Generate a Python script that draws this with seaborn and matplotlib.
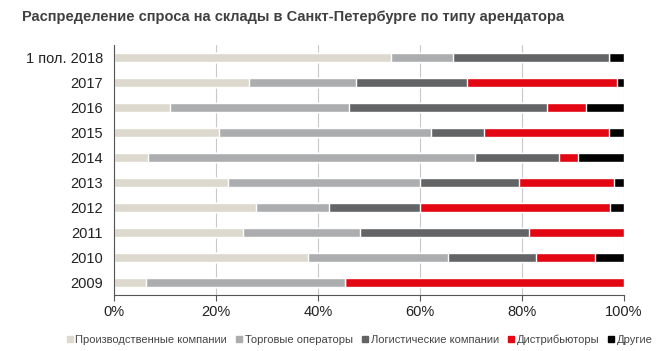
import matplotlib
matplotlib.use("Agg")
import matplotlib.pyplot as plt
from matplotlib.lines import Line2D
import numpy as np
import pandas as pd
import seaborn as sns

# values, % of annual take-up
years = ['1 пол. 2018', '2017', '2016', '2015', '2014', '2013', '2012', '2011', '2010', '2009']
production = [54.3, 26.5, 11.0, 20.6, 6.7, 22.4, 27.8, 25.2, 38.1, 6.2]
retail = [12.2, 20.9, 35.1, 41.5, 64.0, 37.6, 14.3, 23.0, 27.3, 39.1]
logistics = [30.5, 21.8, 38.7, 10.4, 16.6, 19.4, 17.9, 33.2, 17.3, 0.0]
distributors = [0.0, 29.5, 7.8, 24.5, 3.7, 18.6, 37.3, 18.6, 11.6, 54.7]
other = [3.0, 1.3, 7.4, 3.0, 9.0, 2.0, 2.7, 0.0, 5.7, 0.0]

series = ['Производственные компании', 'Торговые операторы', 'Логистические компании',
          'Дистрибьюторы', 'Другие']
colors = ['#ddd9cf', '#acadaf', '#636466', '#e30613', '#000000']

df = pd.DataFrame({'year': years, series[0]: production, series[1]: retail,
                   series[2]: logistics, series[3]: distributors, series[4]: other})
cum = df[series].cumsum(axis=1)

sns.set_style('white')
plt.rcParams['font.family'] = ['Liberation Sans', 'DejaVu Sans']

fig = plt.figure(figsize=(6.71, 3.51), dpi=100)
ax = fig.add_axes([0.170, 0.160, 0.760, 0.712])

# stacked bars: draw cumulative totals from the last series back to the first
for name, col in reversed(list(zip(series, colors))):
    sns.barplot(x=cum[name], y=df['year'], orient='h', color=col, width=0.38,
                saturation=1, ax=ax, order=years)

ax.set_xlim(0, 100)
ax.set_ylim(len(years) - 0.5, -0.5)
ax.set_xticks([0, 20, 40, 60, 80, 100])
ax.set_xticklabels(['0%', '20%', '40%', '60%', '80%', '100%'])
ax.set_xlabel('')
ax.set_ylabel('')
ax.grid(axis='x', color='#c8c8c8', lw=0.8)
ax.set_axisbelow(True)
for s in ['top', 'right']:
    ax.spines[s].set_visible(False)
for s in ['left', 'bottom']:
    ax.spines[s].set_color('#555555')
    ax.spines[s].set_linewidth(0.8)

ax.set_yticks(np.arange(-0.5, len(years), 1), minor=True)
ax.tick_params(axis='y', which='major', length=0, labelsize=10.5, pad=8, labelcolor='#222222')
ax.tick_params(axis='y', which='minor', length=4, width=0.8, color='#555555', direction='out')
ax.tick_params(axis='x', which='major', length=4, width=0.8, color='#555555', direction='out',
               labelsize=10.5, labelcolor='#222222', bottom=True)

fig.text(0.033, 0.952, 'Распределение спроса на склады в Санкт-Петербурге по типу арендатора',
         fontsize=10.5, fontweight='bold', color='#404040', va='center')

handles = [Line2D([], [], marker='s', ls='', color=c, markersize=4.5) for c in colors]
fig.legend(handles, series, loc='center', bbox_to_anchor=(0.535, 0.033), ncol=5,
           frameon=False, fontsize=8, handletextpad=0.1, columnspacing=0.7,
           handlelength=0.8, labelcolor='#444444')

fig.savefig('out.png', dpi=100)
